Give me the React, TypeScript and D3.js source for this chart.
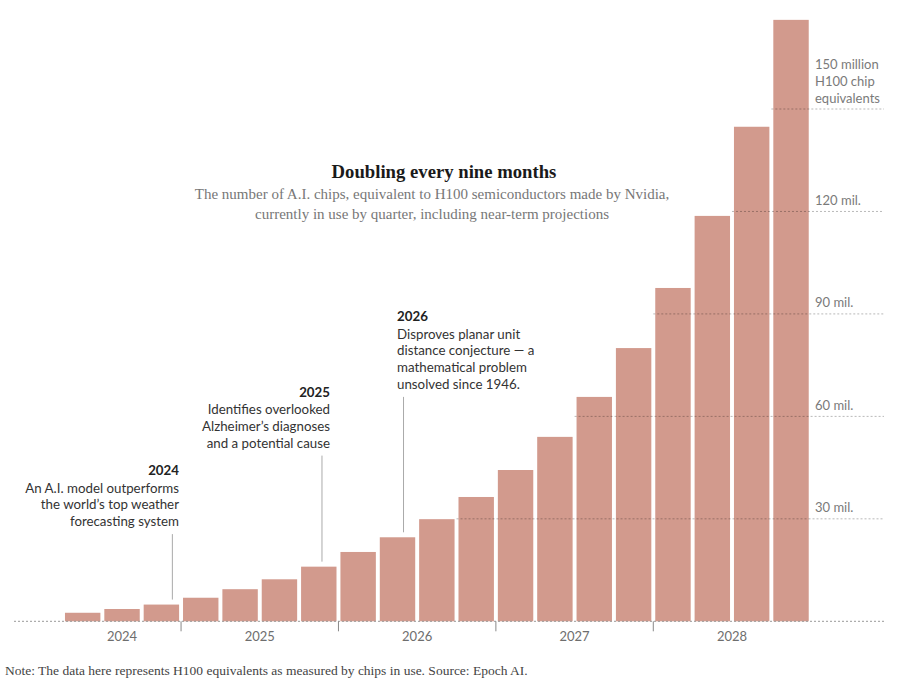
import React from "react";
import * as d3 from "d3";

const quarters = [
  "2024 Q2", "2024 Q3", "2024 Q4",
  "2025 Q1", "2025 Q2", "2025 Q3", "2025 Q4",
  "2026 Q1", "2026 Q2", "2026 Q3", "2026 Q4",
  "2027 Q1", "2027 Q2", "2027 Q3", "2027 Q4",
  "2028 Q1", "2028 Q2", "2028 Q3", "2028 Q4",
];
// millions of H100 equivalents
const chips = [2.5, 3.6, 4.9, 6.9, 9.4, 12.3, 16.0, 20.3, 24.6, 29.9, 36.4, 44.3, 54.0, 65.7, 80.0, 97.6, 118.7, 144.8, 176.1];
const years = ["2024", "2025", "2026", "2027", "2028"];
const gridTicks = [30, 60, 90, 120, 150];
const gridLabels = [["30 mil."], ["60 mil."], ["90 mil."], ["120 mil."], ["150 million", "H100 chip", "equivalents"]];

const annoYears = ["2024", "2025", "2026"];
const annoQuarters = ["2024 Q4", "2025 Q4", "2026 Q2"];
const annoFrac = [0.81, 0.59, 0.67];
const annoLines = [
  ["An A.I. model outperforms", "the world\u2019s top weather", "forecasting system"],
  ["Identifies overlooked", "Alzheimer\u2019s diagnoses", "and a potential cause"],
  ["Disproves planar unit", "distance conjecture \u2014 a", "mathematical problem", "unsolved since 1946."],
];

const title = "Doubling every nine months";
const subtitle = [
  "The number of A.I. chips, equivalent to H100 semiconductors made by Nvidia,",
  "currently in use by quarter, including near-term projections",
];
const note = "Note: The data here represents H100 equivalents as measured by chips in use. Source: Epoch AI.";

const W = 900;
const H = 680;
const SANS = "Lato, 'Liberation Sans', Arial, sans-serif";
const SERIF = "'Liberation Serif', 'Times New Roman', serif";
const BAR = "#d29a8d";

// annotation text layout: anchor x, year-label y (baseline), text-anchor
const annoLayout = [
  { x: 179, y: 475, anchor: "end" },
  { x: 330, y: 396.5, anchor: "end" },
  { x: 397, y: 321, anchor: "start" },
];

export default function App() {
  const x = d3.scaleBand<string>().domain(quarters).range([63, 810.7]).paddingInner(0.1).paddingOuter(0.05);
  const y = d3.scaleLinear().domain([0, 150]).range([621.3, 109]);
  const bw = x.bandwidth();
  const step = x.step();
  const gap = step - bw;

  const yearInfo = years.map((yr) => {
    const qs = quarters.filter((q) => q.startsWith(yr));
    const first = x(qs[0])!;
    const last = x(qs[qs.length - 1])! + bw;
    return { yr, mid: (first + last) / 2, start: first - gap / 2 };
  });

  const lineH = 16.8;
  const fs = 13.3;

  return (
    <svg width={W} height={H} style={{ position: "absolute", left: 0, top: 0, background: "#fff" }}>
      {/* bars */}
      {quarters.map((q, i) => (
        <rect key={q} x={x(q)} y={y(chips[i])} width={bw} height={y(0) - y(chips[i])} fill={BAR} />
      ))}

      {/* gridlines */}
      {gridTicks.map((t, i) => {
        const idx = chips.findIndex((v) => v > t);
        const x0 = idx >= 0 ? x(quarters[idx])! - gap / 2 : 810;
        const lbl = gridLabels[i];
        return (
          <g key={t}>
            <line x1={x0} x2={884} y1={y(t)} y2={y(t)} stroke="#000" strokeOpacity={0.28} strokeWidth={1} strokeDasharray="2,2" />
            {lbl.map((s, j) => (
              <text key={j} x={815} y={y(t) - 6.5 - (lbl.length - 1 - j) * 17} fontFamily={SANS} fontSize={13} fill="#7a7a7a">
                {s}
              </text>
            ))}
          </g>
        );
      })}

      {/* baseline */}
      <line x1={14} x2={884} y1={y(0)} y2={y(0)} stroke="#999" strokeWidth={1} strokeDasharray="2,2" />

      {/* year ticks & labels */}
      {yearInfo.map((d, i) => (
        <g key={d.yr}>
          {i > 0 && <line x1={d.start} x2={d.start} y1={y(0)} y2={y(0) + 10} stroke="#888" strokeWidth={1} />}
          <text x={d.mid} y={640.5} textAnchor="middle" fontFamily={SANS} fontSize={13} fill="#6e6e6e">
            {d.yr}
          </text>
        </g>
      ))}

      {/* annotations */}
      {annoYears.map((yr, i) => {
        const L = annoLayout[i];
        const qi = quarters.indexOf(annoQuarters[i]);
        const lx = x(annoQuarters[i])! + bw * annoFrac[i];
        const lines = annoLines[i];
        const lastBase = L.y + 17.5 + (lines.length - 1) * lineH;
        return (
          <g key={yr}>
            <text x={L.x} y={L.y} textAnchor={L.anchor as any} fontFamily={SANS} fontSize={fs} fontWeight={700} fill="#222">
              {yr}
            </text>
            {lines.map((s, j) => (
              <text key={j} x={L.x} y={L.y + 17.5 + j * lineH} textAnchor={L.anchor as any} fontFamily={SANS} fontSize={fs} fill="#333">
                {s}
              </text>
            ))}
            <line x1={lx} x2={lx} y1={lastBase + 8} y2={y(chips[qi]) - 5} stroke="#aaa" strokeWidth={1} />
          </g>
        );
      })}

      {/* title */}
      <text x={444} y={177.5} textAnchor="middle" fontFamily={SERIF} fontSize={18.7} fontWeight={700} fill="#1a1a1a">
        {title}
      </text>
      {subtitle.map((s, i) => (
        <text key={i} x={432} y={198.5 + i * 20} textAnchor="middle" fontFamily={SERIF} fontSize={15} fill="#777">
          {s}
        </text>
      ))}

      {/* note */}
      <text x={5} y={674.5} fontFamily={SERIF} fontSize={13.5} fill="#444">
        {note}
      </text>
    </svg>
  );
}
